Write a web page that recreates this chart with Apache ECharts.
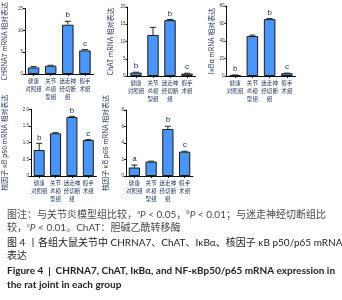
<!DOCTYPE html>
<html><head><meta charset="utf-8">
<script src="https://cdn.jsdelivr.net/npm/echarts@6/dist/echarts.min.js"></script>
<style>html,body{margin:0;padding:0;background:#fff}#c{width:342px;height:300px}</style>
</head><body><div id="c"></div>
<script>
// ---- data ----
var categories = ['健康\n对照组', '关节\n炎模\n型组', '迷走神\n经切断\n组', '假手\n术组'];
var chrna7 = [1.5, 1.9, 11.3, 5.4];
var chrna7Err = [0.2, 0.1, 0.8, 0.2];
var chrna7Sig = ['', '', 'b', 'c'];
var chat = [1.0, 11.9, 16.2, 0.7];
var chatErr = [0.1, 2.2, 0.2, 0.1];
var chatSig = ['b', '', 'b', 'c'];
var ikba = [1.0, 45.7, 65.0, 3.1];
var ikbaErr = [0.2, 1.0, 0.6, 0.2];
var ikbaSig = ['b', '', 'b', 'c'];
var p50 = [0.78, 1.28, 1.77, 1.08];
var p50Err = [0.2, 0.02, 0.02, 0.01];
var p50Sig = ['b', '', 'b', 'c'];
var p65 = [1.03, 1.75, 5.7, 2.95];
var p65Err = [0.3, 0.05, 0.33, 0.05];
var p65Sig = ['a', '', 'b', 'c'];
var yNames = ['CHRNA7 mRNA 相对表达', 'ChAT mRNA 相对表达', 'IκBα mRNA 相对表达', '核因子 κB p50 mRNA 相对表达', '核因子 κB p65 mRNA 相对表达'];
var yMax = [15, 20, 80, 2, 8];
var yInterval = [5, 5, 20, 0.5, 2];

var panels = [
  {v: chrna7, e: chrna7Err, s: chrna7Sig},
  {v: chat, e: chatErr, s: chatSig},
  {v: ikba, e: ikbaErr, s: ikbaSig},
  {v: p50, e: p50Err, s: p50Sig},
  {v: p65, e: p65Err, s: p65Sig}
];
// layout
var grids = [
  {left: 24.5, top: 7, width: 69, height: 67},
  {left: 127.5, top: 7, width: 68, height: 69},
  {left: 226.5, top: 6, width: 69, height: 70},
  {left: 29.5, top: 109.3, width: 67, height: 66.7},
  {left: 126, top: 110, width: 67, height: 66}
];
var nameGaps = [17, 14, 12, 23, 17];

var CJK = "'Noto Sans CJK SC'";
var navy = '#22335a';
var xAxes = [], yAxes = [], series = [];
panels.forEach(function (p, i) {
  xAxes.push({
    type: 'category', gridIndex: i, data: categories,
    axisLine: {lineStyle: {color: '#111', width: 1}},
    axisTick: {show: true, alignWithLabel: true, length: 2, lineStyle: {color: '#111'}},
    axisLabel: {interval: 0, fontSize: 5.5, lineHeight: 8, margin: 3, color: navy, fontFamily: CJK}
  });
  yAxes.push({
    type: 'value', gridIndex: i, min: 0, max: yMax[i], interval: yInterval[i],
    name: yNames[i], nameLocation: 'middle', nameGap: nameGaps[i], nameRotate: 90,
    nameTextStyle: {fontSize: 7, color: navy, fontFamily: CJK},
    splitLine: {show: false},
    axisLine: {show: true, lineStyle: {color: '#111', width: 1}},
    axisTick: {show: true, length: 2, lineStyle: {color: '#111'}},
    axisLabel: {fontSize: 4.5, margin: 2, color: '#333', fontFamily: 'Liberation Sans',
      formatter: function (v) { return (yInterval[i] < 1 && v !== 0) ? v.toFixed(1) : String(v); }}
  });
  series.push({
    type: 'bar', xAxisIndex: i, yAxisIndex: i, data: p.v, barWidth: '67%',
    itemStyle: {color: '#4a95f7', borderColor: '#1a1a1a', borderWidth: 1},
    silent: true
  });
  var errData = p.v.map(function (v, k) { return [k, v, p.e[k]]; });
  series.push({
    type: 'custom', xAxisIndex: i, yAxisIndex: i, data: errData, silent: true, z: 5,
    renderItem: function (params, api) {
      var k = api.value(0), v = api.value(1), e = api.value(2);
      var base = api.coord([k, v]);
      var top = api.coord([k, v + e]);
      var children = [];
      if (e > 0) {
        children.push({type: 'line', shape: {x1: base[0], y1: base[1], x2: top[0], y2: top[1]}, style: {stroke: '#222', lineWidth: 1}});
        children.push({type: 'line', shape: {x1: top[0] - 3, y1: top[1], x2: top[0] + 3, y2: top[1]}, style: {stroke: '#222', lineWidth: 1}});
      }
      var sig = p.s[k];
      if (sig) {
        children.push({type: 'text', x: top[0], y: top[1] - 2,
          style: {text: sig, fontSize: 8, fontFamily: 'Liberation Sans', fill: navy, align: 'center', verticalAlign: 'bottom'}});
      }
      return {type: 'group', children: children};
    }
  });
});

var capFont = "Lato, 'Noto Sans CJK SC'";
var gray = '#4a4a4a';
var dark = '#222';
function capLine(y, text, rich, extra) {
  var st = {text: text, rich: rich, fontSize: 10, fontFamily: capFont, fill: gray, verticalAlign: 'middle'};
  if (extra) for (var k in extra) st[k] = extra[k];
  return {type: 'text', left: 7, top: y, style: st};
}
var richCap = {
  sup: {fontSize: 6, verticalAlign: 'top', fontFamily: capFont, fill: gray, lineHeight: 12},
  it: {fontStyle: 'italic', fontSize: 10, fontFamily: capFont, fill: gray, lineHeight: 12},
  n: {fontSize: 10, fontFamily: capFont, fill: gray, lineHeight: 12}
};
var graphic = [
  capLine(209, '{n|图注：与关节炎模型组比较，}{sup|a}{it|P}{n| < 0.05，}{sup|b}{it|P}{n| < 0.01；与迷走神经切断组比}', richCap),
  capLine(222, '{n|较，}{sup|c}{it|P}{n| < 0.01。ChAT：胆碱乙酰转移酶}', richCap),
  {type: 'text', left: 7, top: 238, style: {text: '图 4 丨各组大鼠关节中 CHRNA7、ChAT、IκBα、核因子 κB p50/p65 mRNA', fontSize: 10, fontFamily: capFont, fill: dark}},
  {type: 'text', left: 7, top: 251, style: {text: '表达', fontSize: 10, fontFamily: capFont, fill: dark}},
  {type: 'text', left: 7, top: 266, style: {text: 'Figure 4  |  CHRNA7, ChAT, IκBα, and NF-κBp50/p65 mRNA expression in', fontSize: 10, fontWeight: 'bold', fontFamily: capFont, fill: dark}},
  {type: 'text', left: 7, top: 280, style: {text: 'the rat joint in each group', fontSize: 10, fontWeight: 'bold', fontFamily: capFont, fill: dark}}
];

var chart = echarts.init(document.getElementById('c'), null, {renderer: 'canvas'});
chart.setOption({
  animation: false,
  backgroundColor: '#fff',
  grid: grids,
  xAxis: xAxes,
  yAxis: yAxes,
  series: series,
  graphic: graphic
});
</script></body></html>
